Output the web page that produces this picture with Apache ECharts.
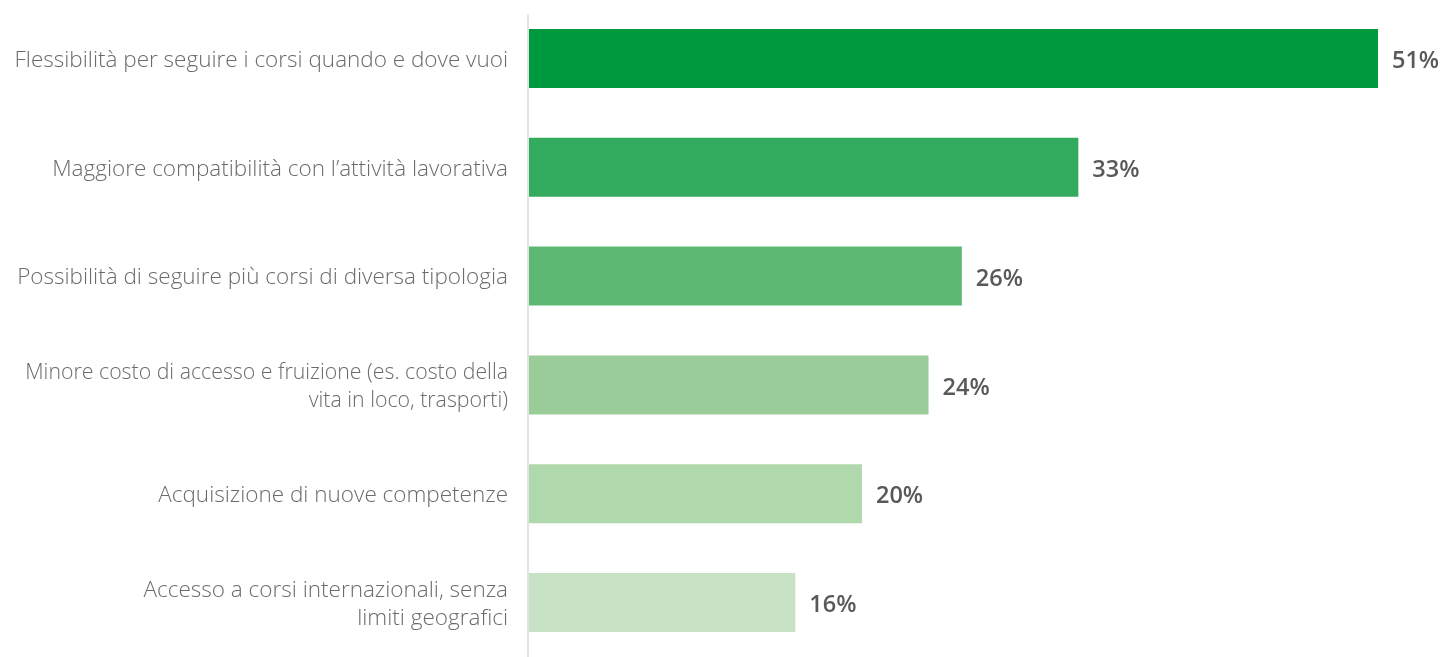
<!DOCTYPE html>
<html>
<head>
<meta charset="utf-8">
<script src="https://cdn.jsdelivr.net/npm/echarts@6/dist/echarts.min.js"></script>
<style>
  html, body { margin: 0; padding: 0; background: #ffffff; }
  #chart { width: 1444px; height: 657px; }
</style>
</head>
<body>
<div id="chart"></div>
<script>
// Motivi di preferenza per la formazione online (% rispondenti)
const categories = [
  'Flessibilità per seguire i corsi quando e dove vuoi',
  'Maggiore compatibilità con l’attività lavorativa',
  'Possibilità di seguire più corsi di diversa tipologia',
  'Minore costo di accesso e fruizione (es. costo della\nvita in loco, trasporti)',
  'Acquisizione di nuove competenze',
  'Accesso a corsi internazionali, senza\nlimiti geografici'
];
const values = [51, 33, 26, 24, 20, 16];
const barColors = ['#009A3E', '#33AB5F', '#5DB872', '#99CC99', '#B0D8AD', '#C8E2C6'];

const labelFont = { color: '#6b6b6b', fontFamily: 'Open Sans', fontWeight: 300, lineHeight: 28 };

const chart = echarts.init(document.getElementById('chart'), null, { renderer: 'canvas' });

chart.setOption({
  animation: false,
  backgroundColor: '#ffffff',
  grid: [
    { left: 529, right: 66, top: 4, bottom: 0, containLabel: false, outerBoundsMode: 'none' },
    // separate grid carrying only the vertical baseline
    { left: 528, right: 66, top: 15, bottom: 0, containLabel: false, outerBoundsMode: 'none' }
  ],
  xAxis: [
    { type: 'value', gridIndex: 0, min: 0, max: 51, show: false },
    { type: 'value', gridIndex: 1, min: 0, max: 1, show: false }
  ],
  yAxis: [
    {
      type: 'category',
      gridIndex: 0,
      data: categories,
      inverse: true,
      axisLine: { show: false },
      axisTick: { show: false },
      splitLine: { show: false },
      axisLabel: {
        margin: 21,
        align: 'right',
        ...labelFont,
        fontSize: 22.5,
        padding: [4, 0, 0, 0],
        // the longest, two-line label is set a touch tighter
        formatter: (v, i) => (i === 3 ? '{tight|' + v + '}' : v),
        rich: {
          tight: { ...labelFont, fontSize: 21.3, align: 'right' }
        }
      }
    },
    {
      type: 'category',
      gridIndex: 1,
      data: [''],
      axisLine: { show: true, lineStyle: { color: '#e3e3e3', width: 2 } },
      axisTick: { show: false },
      axisLabel: { show: false },
      splitLine: { show: false }
    }
  ],
  series: [
    {
      type: 'bar',
      xAxisIndex: 0,
      yAxisIndex: 0,
      data: values.map((v, i) => ({ value: v, itemStyle: { color: barColors[i] } })),
      barWidth: 59,
      label: {
        show: true,
        position: 'right',
        distance: 14,
        offset: [0, 3],
        formatter: p => p.value + '%',
        color: '#595959',
        fontFamily: 'Open Sans',
        fontWeight: 600,
        fontSize: 23.5
      }
    }
  ]
});
</script>
</body>
</html>
